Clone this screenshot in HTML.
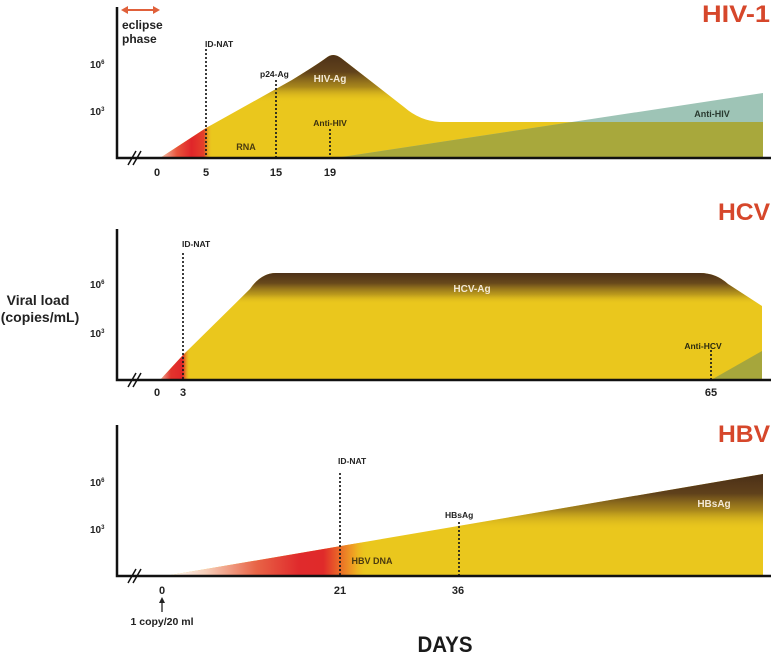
<!DOCTYPE html>
<html><head><meta charset="utf-8"><style>
html,body{margin:0;padding:0;background:#fff;}
svg{display:block;}
text{font-family:"Liberation Sans",Arial,sans-serif;font-weight:bold;}
</style></head><body>
<svg width="779" height="657" viewBox="0 0 779 657" xmlns="http://www.w3.org/2000/svg">
<defs>
  <clipPath id="hivClip"><path d="M160,158 L206,128 L292,80 Q318,64 326,58 Q333,52 341,58 L404,107 Q420,121 440,122 L763,122 L763,158 Z"/></clipPath>
  <clipPath id="hcvClip"><path d="M160,380 L183,355 L250,289 Q261,273 276,273 L700,273 Q716,273 728,284 L762,306 L762,380 Z"/></clipPath>
  <clipPath id="hbvClip"><path d="M165,576 L763,474 L763,576 Z"/></clipPath>

  <linearGradient id="hivBrown" gradientUnits="userSpaceOnUse" x1="0" y1="52" x2="0" y2="102">
    <stop offset="0" stop-color="#4a2e17" stop-opacity="1"/>
    <stop offset="0.4" stop-color="#5a3b1b" stop-opacity="0.95"/>
    <stop offset="0.7" stop-color="#7d5c1c" stop-opacity="0.6"/>
    <stop offset="1" stop-color="#eac71d" stop-opacity="0"/>
  </linearGradient>
  <linearGradient id="hivRed" gradientUnits="userSpaceOnUse" x1="158" y1="0" x2="212" y2="0">
    <stop offset="0" stop-color="#f6d2c0" stop-opacity="1"/>
    <stop offset="0.35" stop-color="#e8553c" stop-opacity="1"/>
    <stop offset="0.62" stop-color="#e0262a" stop-opacity="1"/>
    <stop offset="0.85" stop-color="#e4402a" stop-opacity="1"/>
    <stop offset="1" stop-color="#eac71d" stop-opacity="0"/>
  </linearGradient>

  <linearGradient id="hcvBrown" gradientUnits="userSpaceOnUse" x1="0" y1="272" x2="0" y2="304">
    <stop offset="0" stop-color="#4a2e17" stop-opacity="1"/>
    <stop offset="0.35" stop-color="#5a3b1b" stop-opacity="0.9"/>
    <stop offset="0.7" stop-color="#8a6a1c" stop-opacity="0.5"/>
    <stop offset="1" stop-color="#eac71d" stop-opacity="0"/>
  </linearGradient>
  <linearGradient id="hcvRed" gradientUnits="userSpaceOnUse" x1="158" y1="0" x2="190" y2="0">
    <stop offset="0" stop-color="#f4c4b0" stop-opacity="1"/>
    <stop offset="0.4" stop-color="#e2342c" stop-opacity="1"/>
    <stop offset="0.78" stop-color="#e0262a" stop-opacity="1"/>
    <stop offset="1" stop-color="#eac71d" stop-opacity="0"/>
  </linearGradient>

  <linearGradient id="hbvBrown" gradientUnits="userSpaceOnUse" x1="0" y1="474" x2="0" y2="530">
    <stop offset="0" stop-color="#4a2e17" stop-opacity="1"/>
    <stop offset="0.35" stop-color="#583a1b" stop-opacity="0.95"/>
    <stop offset="0.65" stop-color="#7d5c1c" stop-opacity="0.6"/>
    <stop offset="1" stop-color="#eac71d" stop-opacity="0"/>
  </linearGradient>
  <linearGradient id="hbvRed" gradientUnits="userSpaceOnUse" x1="165" y1="0" x2="368" y2="0">
    <stop offset="0" stop-color="#ffffff" stop-opacity="1"/>
    <stop offset="0.2" stop-color="#f6cdb8" stop-opacity="1"/>
    <stop offset="0.45" stop-color="#e86446" stop-opacity="1"/>
    <stop offset="0.66" stop-color="#e02a2c" stop-opacity="1"/>
    <stop offset="0.78" stop-color="#e02a2a" stop-opacity="1"/>
    <stop offset="0.86" stop-color="#ea6a28" stop-opacity="1"/>
    <stop offset="0.93" stop-color="#efa322" stop-opacity="1"/>
    <stop offset="1" stop-color="#eac71d" stop-opacity="0"/>
  </linearGradient>
</defs>

<!-- ================= HIV-1 ================= -->
<text x="770" y="22" font-size="24" fill="#d6472b" text-anchor="end" textLength="68" lengthAdjust="spacingAndGlyphs">HIV-1</text>
<!-- eclipse arrow -->
<g stroke="#e0603a" stroke-width="2" fill="#e0603a">
  <line x1="126" y1="10" x2="155" y2="10"/>
</g>
<path d="M121,10 L128,6 L128,14 Z" fill="#e0603a"/>
<path d="M160,10 L153,6 L153,14 Z" fill="#e0603a"/>
<text x="122" y="29" font-size="12" fill="#222">eclipse</text>
<text x="122" y="43" font-size="12" fill="#222">phase</text>

<g clip-path="url(#hivClip)">
  <rect x="150" y="40" width="620" height="120" fill="#eac71d"/>
  <rect x="150" y="40" width="620" height="70" fill="url(#hivBrown)"/>
  <rect x="150" y="40" width="70" height="120" fill="url(#hivRed)"/>
</g>
<path d="M335,158 L763,93 L763,158 Z" fill="#9ec4b6"/>
<path d="M335,158 L572,122 L763,122 L763,158 Z" fill="#a8a83c"/>

<g stroke="#1a1a1a" stroke-width="1.7" stroke-dasharray="2,2">
  <line x1="206" y1="49" x2="206" y2="158"/>
  <line x1="276" y1="80" x2="276" y2="158"/>
  <line x1="330" y1="129" x2="330" y2="158"/>
</g>
<path d="M117,7 V158 H771" fill="none" stroke="#111" stroke-width="2.5"/>
<g stroke="#111" stroke-width="1.5"><line x1="128" y1="165" x2="136" y2="151"/><line x1="133" y1="165" x2="141" y2="151"/></g>

<text x="205" y="47" font-size="8.5" fill="#222">ID-NAT</text>
<text x="260" y="77" font-size="8.5" fill="#222">p24-Ag</text>
<text x="330" y="82" font-size="10" fill="#f3e8d6" text-anchor="middle">HIV-Ag</text>
<text x="246" y="150" font-size="9" fill="#4a3b10" text-anchor="middle">RNA</text>
<text x="330" y="126" font-size="8.5" fill="#3a3010" text-anchor="middle">Anti-HIV</text>
<text x="712" y="117" font-size="9" fill="#2a3a30" text-anchor="middle">Anti-HIV</text>
<g font-size="11" fill="#222" text-anchor="middle">
  <text x="157" y="176">0</text><text x="206" y="176">5</text><text x="276" y="176">15</text><text x="330" y="176">19</text>
</g>
<text x="90" y="68" font-size="10" fill="#222">10<tspan dy="-4" font-size="6">6</tspan></text>
<text x="90" y="115" font-size="10" fill="#222">10<tspan dy="-4" font-size="6">3</tspan></text>

<!-- ================= HCV ================= -->
<text x="770" y="220" font-size="24" fill="#d6472b" text-anchor="end" textLength="52" lengthAdjust="spacingAndGlyphs">HCV</text>
<g clip-path="url(#hcvClip)">
  <rect x="150" y="260" width="620" height="122" fill="#eac71d"/>
  <rect x="150" y="260" width="620" height="50" fill="url(#hcvBrown)"/>
  <rect x="150" y="260" width="45" height="122" fill="url(#hcvRed)"/>
</g>
<path d="M711,380 L762,351 L762,380 Z" fill="#a6a63c"/>
<g stroke="#1a1a1a" stroke-width="1.7" stroke-dasharray="2,2">
  <line x1="183" y1="253" x2="183" y2="380"/>
  <line x1="711" y1="350" x2="711" y2="380"/>
</g>
<path d="M117,229 V380 H771" fill="none" stroke="#111" stroke-width="2.5"/>
<g stroke="#111" stroke-width="1.5"><line x1="128" y1="387" x2="136" y2="373"/><line x1="133" y1="387" x2="141" y2="373"/></g>
<text x="182" y="247" font-size="8.5" fill="#222">ID-NAT</text>
<text x="472" y="292" font-size="10" fill="#f3e8d6" text-anchor="middle">HCV-Ag</text>
<text x="703" y="349" font-size="8.5" fill="#2a2a10" text-anchor="middle">Anti-HCV</text>
<g font-size="11" fill="#222" text-anchor="middle">
  <text x="157" y="396">0</text><text x="183" y="396">3</text><text x="711" y="396">65</text>
</g>
<text x="90" y="288" font-size="10" fill="#222">10<tspan dy="-4" font-size="6">6</tspan></text>
<text x="90" y="337" font-size="10" fill="#222">10<tspan dy="-4" font-size="6">3</tspan></text>
<text x="38" y="305" font-size="14" fill="#222" text-anchor="middle">Viral load</text>
<text x="40" y="322" font-size="14" fill="#222" text-anchor="middle">(copies/mL)</text>

<!-- ================= HBV ================= -->
<text x="770" y="442" font-size="24" fill="#d6472b" text-anchor="end" textLength="52" lengthAdjust="spacingAndGlyphs">HBV</text>
<g clip-path="url(#hbvClip)">
  <rect x="160" y="470" width="610" height="110" fill="#eac71d"/>
  <rect x="160" y="470" width="610" height="62" fill="url(#hbvBrown)"/>
  <rect x="160" y="470" width="210" height="110" fill="url(#hbvRed)"/>
</g>
<g stroke="#1a1a1a" stroke-width="1.7" stroke-dasharray="2,2">
  <line x1="340" y1="473" x2="340" y2="576"/>
  <line x1="459" y1="522" x2="459" y2="576"/>
</g>
<path d="M117,425 V576 H771" fill="none" stroke="#111" stroke-width="2.5"/>
<g stroke="#111" stroke-width="1.5"><line x1="128" y1="583" x2="136" y2="569"/><line x1="133" y1="583" x2="141" y2="569"/></g>
<text x="338" y="464" font-size="8.5" fill="#222">ID-NAT</text>
<text x="445" y="518" font-size="8.5" fill="#222">HBsAg</text>
<text x="714" y="507" font-size="10" fill="#f3e8d6" text-anchor="middle">HBsAg</text>
<text x="372" y="564" font-size="9" fill="#4a3a10" text-anchor="middle">HBV DNA</text>
<g font-size="11" fill="#222" text-anchor="middle">
  <text x="162" y="594">0</text><text x="340" y="594">21</text><text x="458" y="594">36</text>
</g>
<line x1="162" y1="612" x2="162" y2="602" stroke="#222" stroke-width="1.3"/>
<path d="M162,597 L159,603 L165,603 Z" fill="#222"/>
<text x="162" y="625" font-size="10.5" fill="#222" text-anchor="middle">1 copy/20 ml</text>
<text x="90" y="486" font-size="10" fill="#222">10<tspan dy="-4" font-size="6">6</tspan></text>
<text x="90" y="533" font-size="10" fill="#222">10<tspan dy="-4" font-size="6">3</tspan></text>

<text x="445" y="652" font-size="22" fill="#1a1a1a" text-anchor="middle" textLength="55" lengthAdjust="spacingAndGlyphs">DAYS</text>
</svg>
</body></html>
